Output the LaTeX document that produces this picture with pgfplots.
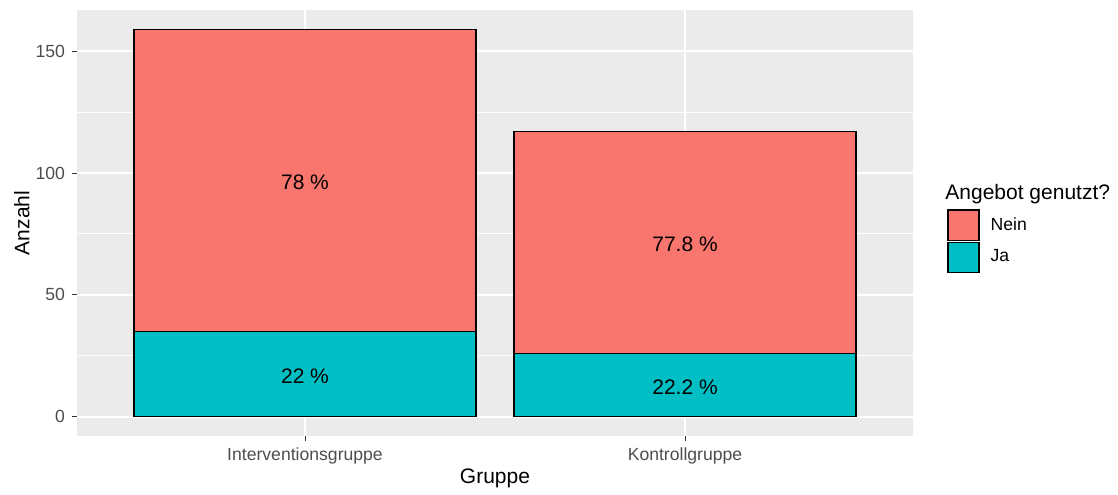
\documentclass[border=0pt]{standalone}
\usepackage{fontspec}
\setmainfont{Liberation Sans}
\usepackage{pgfplots}
\pgfplotsset{compat=1.18}

\definecolor{nein}{HTML}{F8766D}
\definecolor{ja}{HTML}{00BFC4}
\definecolor{panel}{HTML}{EBEBEB}
\definecolor{ticktext}{HTML}{4D4D4D}
\definecolor{tickmark}{HTML}{333333}

\begin{document}
\begin{tikzpicture}
\pgfplotsset{
  common/.style={
    width=418pt, height=213pt, scale only axis,
    xmin=0.4, xmax=2.6, ymin=-7.95, ymax=166.95,
  },
}
% bars, grid, ticks
\begin{axis}[common,
    ybar stacked, bar width=0.9,
    clip=false,
    axis background/.style={fill=panel},
    axis line style={draw=none},
    xtick={1,2}, xticklabels={Interventionsgruppe,Kontrollgruppe},
    ytick={0,50,100,150}, minor ytick={25,75,125},
    grid=both,
    major grid style={white, line width=1pt},
    minor grid style={white, line width=0.5pt},
    tick style={tickmark, line width=0.5pt},
    major tick length=2.5pt, minor tick length=0pt,
    tick align=outside, tick pos=left,
    ticklabel style={font=\fontsize{8.8}{10}\selectfont, text=ticktext},
    /pgf/number format/assume math mode=true,
    xlabel={Gruppe}, ylabel={Anzahl},
    label style={font=\fontsize{10.5}{12}\selectfont},
    xlabel style={at={(axis description cs:0.5,-0.0986)}, anchor=center},
    ylabel style={at={(axis description cs:-0.0658,0.5)}, anchor=center},
]
\addplot[fill=ja, draw=black, line width=0.6pt] coordinates {(1,35) (2,26)};
\addplot[fill=nein, draw=black, line width=0.6pt] coordinates {(1,124) (2,91)};
% page size of the reference
\path (axis description cs:-0.0921,-0.1268) rectangle (axis description cs:1.2452,1.0235);
\end{axis}

% percent labels and legend
\begin{axis}[common,
    hide axis, clip=false,
    legend style={at={(axis description cs:1.0407,0.5329)}, anchor=north west,
      draw=none, fill=none, inner sep=0pt, row sep=0.3pt, column sep=5.5pt,
      nodes={inner sep=0pt}, font=\fontsize{8.8}{10}\selectfont},
    legend cell align=left,
    legend image code/.code={\draw[#1, draw=black, line width=0.6pt] (0pt,-7.6pt) rectangle (15.5pt,7.6pt);},
]
\addplot[forget plot, only marks, mark=*, mark size=0pt, mark options={draw=none, fill=none},
    point meta=explicit symbolic, nodes near coords,
    every node near coord/.append style={anchor=center, yshift=-1pt, font=\fontsize{10.5}{12}\selectfont, text=black}]
  coordinates {(1,17.5) [22 \%] (1,97) [78 \%] (2,13) [22.2 \%] (2,71.5) [77.8 \%]};
\addlegendimage{fill=nein}
\addlegendentry{Nein}
\addlegendimage{fill=ja}
\addlegendentry{Ja}
\node[anchor=west, font=\fontsize{10.5}{12}\selectfont, inner sep=0pt] at (axis description cs:1.0383,0.568) {Angebot genutzt?};
\end{axis}
\end{tikzpicture}
\end{document}
